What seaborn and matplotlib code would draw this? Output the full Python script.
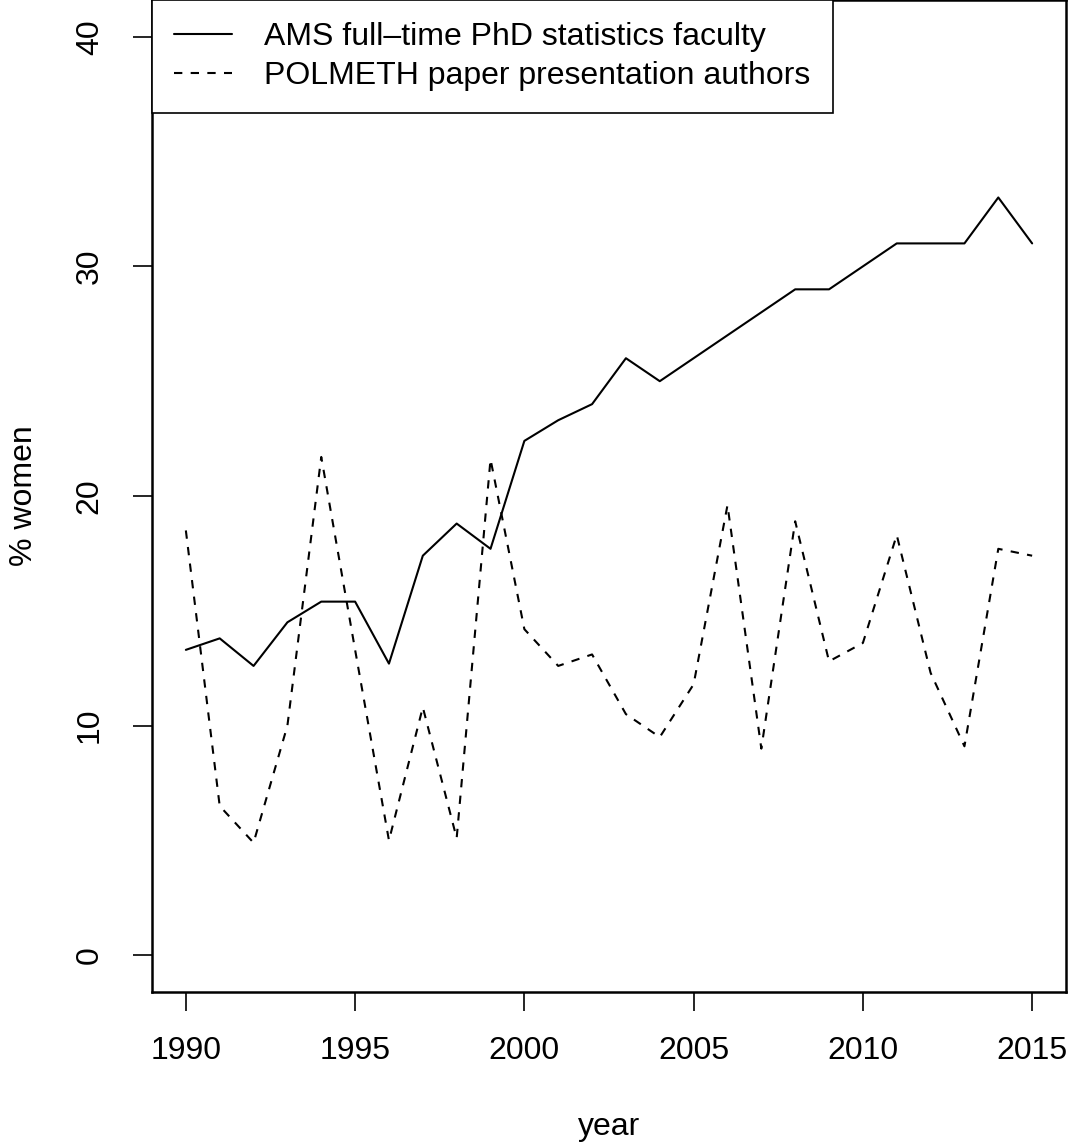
import matplotlib
matplotlib.use("Agg")
import matplotlib.pyplot as plt
import seaborn as sns
import pandas as pd

# ── data ──────────────────────────────────────────────────────────────────────
years = list(range(1990, 2016))

ams_faculty = [13.3, 13.8, 12.6, 14.5, 15.4, 15.4, 12.7, 17.4, 18.8, 17.7,
               22.4, 23.3, 24.0, 26.0, 25.0, 26.0, 27.0, 28.0, 29.0, 29.0,
               30.0, 31.0, 31.0, 31.0, 33.0, 31.0]

polmeth_authors = [18.5, 6.5, 4.9, 10.0, 21.7, 13.3, 5.0, 10.8, 5.1, 21.6,
                   14.2, 12.6, 13.1, 10.5, 9.5, 11.8, 19.6, 9.0, 18.9, 12.8,
                   13.6, 18.3, 12.3, 9.1, 17.7, 17.4]

series_names = ["AMS full\u2013time PhD statistics faculty",
                "POLMETH paper presentation authors"]

df = pd.DataFrame({
    "year": years * 2,
    "pct": ams_faculty + polmeth_authors,
    "series": [series_names[0]] * len(years) + [series_names[1]] * len(years),
})

# ── style ─────────────────────────────────────────────────────────────────────
sns.set_style("white")
plt.rcParams["font.family"] = ["Liberation Sans", "DejaVu Sans"]
plt.rcParams["text.color"] = "black"
plt.rcParams["axes.labelcolor"] = "black"
plt.rcParams["xtick.color"] = "black"
plt.rcParams["ytick.color"] = "black"
FS = 23

fig = plt.figure(figsize=(10.68, 11.43), dpi=100)
ax = fig.add_axes([152 / 1068, 1 - 992 / 1143, (1066 - 152) / 1068, 992 / 1143])

sns.lineplot(
    data=df, x="year", y="pct", style="series",
    style_order=series_names,
    dashes={series_names[0]: "", series_names[1]: (4, 4)},
    color="black", linewidth=1.5, ax=ax,
)

ax.set_xlim(1989, 2016)
ax.set_ylim(-1.6, 41.6)
ax.set_xticks([1990, 1995, 2000, 2005, 2010, 2015])
ax.set_yticks([0, 10, 20, 30, 40])
ax.tick_params(axis="both", direction="out", length=14, width=1.2,
               color="black", labelcolor="black", labelsize=FS,
               bottom=True, left=True)
ax.tick_params(axis="x", pad=18)
ax.tick_params(axis="y", pad=20)
for lab in ax.get_yticklabels():
    lab.set_rotation(90)
    lab.set_va("center")

for sp in ax.spines.values():
    sp.set_color("black")
    sp.set_linewidth(1.8)

ax.set_xlabel("year", fontsize=FS, labelpad=33, color="black")
ax.set_ylabel("% women", fontsize=FS, labelpad=26, color="black")

leg = ax.legend(
    loc="upper left", bbox_to_anchor=(0, 1), borderaxespad=0,
    fontsize=FS, frameon=True, fancybox=False, edgecolor="black",
    handlelength=1.8, handletextpad=1.03, labelspacing=0.28,
    borderpad=0.69, title=None,
)
leg.get_frame().set_linewidth(1.2)
leg.get_frame().set_alpha(1)
for txt in leg.get_texts():
    txt.set_color("black")

fig.savefig("out.png", dpi=100)
plt.close(fig)
